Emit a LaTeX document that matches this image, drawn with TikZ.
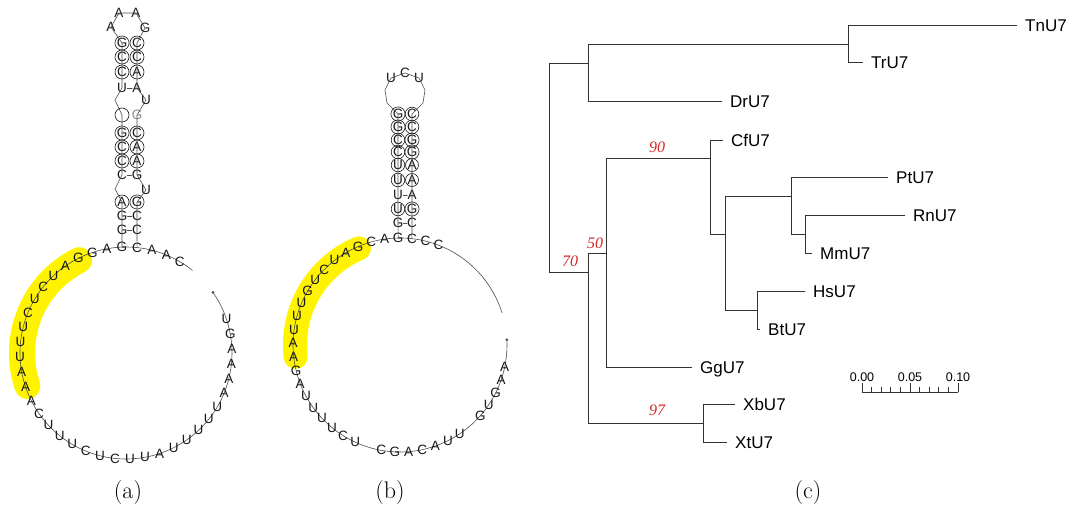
\documentclass[tikz,border=0pt]{standalone}
\usepackage{fontspec}
\setsansfont{Liberation Sans}
\newfontfamily\bsfont{Liberation Serif}
\usetikzlibrary{positioning}

\definecolor{bsred}{RGB}{214,38,38}
\definecolor{hlyellow}{RGB}{255,243,0}

\tikzset{
  nt/.style={font=\sffamily\fontsize{13.5}{13.5}\selectfont,text=black!90,inner sep=0pt},
  ntc/.style={nt,circle,draw=black!90,line width=.6pt,minimum size=14pt},
  bb/.style={draw=black!70,line width=.6pt},
  hl/.style={draw=hlyellow,line width=26pt,line cap=round},
  br/.style={draw=black!80,line width=.9pt,line cap=rect,line join=miter},
  leaf/.style={anchor=west,font=\sffamily\fontsize{17}{17}\selectfont,inner xsep=8pt,inner ysep=0pt,text height=12.2pt,text depth=0pt},
  bs/.style={font=\bsfont\itshape\fontsize{16}{16}\selectfont,text=bsred,inner sep=0pt},
  scl/.style={font=\sffamily\fontsize{12.5}{12.5}\selectfont,inner sep=0pt},
  panel/.style={font=\fontsize{24}{24}\selectfont,inner sep=0pt},
}

\begin{document}
\begin{tikzpicture}[x=1pt,y=1pt,line cap=round,line join=round]
\path[use as bounding box] (0,0) rectangle (1072,-513);

% ---- (a) ----
\coordinate (ca) at (126,-353);
\draw[hl] ([shift={(116.73:104pt)}]ca) arc[start angle=116.73,end angle=198.55,radius=104pt];
\draw[bb] ([shift={(51.27:106pt)}]ca) arc[start angle=51.27,end angle=394.91,radius=106pt];
\fill[black!70] ([shift={(34.91:106pt)}]ca) circle (1.5pt);
\foreach \k/\b in {0/C,1/A,2/A,3/C,8/U,9/G,10/A,11/A,12/A,13/A,14/U,15/U,16/U,17/U,18/U,19/A,20/U,21/U,22/C,23/U,24/C,25/U,26/U,27/U,28/C,29/A,30/A,31/A,32/U,33/U,34/U,35/C,36/U,37/C,38/U,39/A,40/G,41/G,42/A,43/G}
  \node[nt] (a\k) at ([shift={({84-8.18182*\k}:106pt)}]ca) {\b};

\foreach \i/\y/\l/\r in {1/43/G/C,2/57/C/C,3/72/C/A,6/133/G/C,7/147/C/A,8/161/C/A,10/202/A/G}{
  \node[ntc] (aL\i) at (122,-\y) {\l};
  \node[ntc] (aR\i) at (137,-\y) {\r};
}
\foreach \i/\y/\l/\r in {4/88/U/A,9/175/C/G,11/216/G/C,12/230/G/C}{
  \node[nt] (aL\i) at (122,-\y) {\l};
  \node[nt] (aR\i) at (137,-\y) {\r};
  \draw[bb] (aL\i) -- (aR\i);
}
\node[ntc] (aL5) at (122,-115) {};
\node[nt,text=black!45] (aR5) at (137,-115) {G};
\node[nt] (aU1) at (146,-190) {U};
\node[nt] (aU2) at (146,-100) {U};
\coordinate (ab1) at (115,-189);
\coordinate (ab2) at (115,-100);
\node[nt] (ah1) at (111,-27) {A};
\node[nt] (ah2) at (119,-13) {A};
\node[nt] (ah3) at (136,-13) {A};
\node[nt] (ah4) at (145,-28) {G};
\draw[bb] (a43.center) -- (aL12.center) -- (aL11.center) -- (aL10.center) -- (ab1)
  -- (aL9.center) -- (aL8.center) -- (aL7.center) -- (aL6.center) -- (aL5.center) -- (ab2)
  -- (aL4.center) -- (aL3.center) -- (aL2.center) -- (aL1.center)
  -- (ah1.center) -- (ah2.center) -- (ah3.center) -- (ah4.center)
  -- (aR1.center) -- (aR2.center) -- (aR3.center) -- (aR4.center) -- (aU2.center)
  -- (aR5.center) -- (aR6.center) -- (aR7.center) -- (aR8.center) -- (aR9.center) -- (aU1.center)
  -- (aR10.center) -- (aR11.center) -- (aR12.center) -- (a0.center);

% ---- (b) ----
\coordinate (cb) at (400,-345);
\draw[hl,line width=24pt] ([shift={(112.99:105pt)}]cb) arc[start angle=112.99,end angle=186.46,radius=105pt];
\draw[bb] ([shift={(17.48:107pt)}]cb) arc[start angle=17.48,end angle=362.78,radius=107pt];
\fill[black!70] ([shift={(2.78:107pt)}]cb) circle (1.5pt);
\foreach \k/\b in {0/C,1/C,2/C,13/A,14/A,15/G,16/U,17/G,19/U,20/U,21/A,22/C,23/A,24/G,25/C,27/U,28/C,29/U,30/U,31/U,32/U,33/A,34/G,35/A,36/A,37/U,38/U,39/U,40/G,41/U,42/C,43/U,44/A,45/G,46/C,47/A,48/G}
  \node[nt] (b\k) at ([shift={({83.6-7.34694*\k}:107pt)}]cb) {\b};

\foreach \i/\y/\l/\r in {1/114/G/C,2/127/G/C,3/140/C/G,4/152/C/G,5/165/U/A,6/180/U/A,8/209/U/G}{
  \node[ntc,minimum size=13pt] (bL\i) at (398,-\y) {\l};
  \node[ntc,minimum size=13pt] (bR\i) at (412,-\y) {\r};
}
\foreach \i/\y/\l/\r in {7/195/U/A,9/223/G/C}{
  \node[nt] (bL\i) at (398,-\y) {\l};
  \node[nt] (bR\i) at (412,-\y) {\r};
  \draw[bb] (bL\i) -- (bR\i);
}
\node[nt] (bh1) at (391,-78) {U};
\node[nt] (bh2) at (405,-73) {C};
\node[nt] (bh3) at (419,-78) {U};
\draw[bb] (b48.center) -- (bL9.center) -- (bL8.center) -- (bL7.center) -- (bL6.center) -- (bL5.center)
  -- (bL4.center) -- (bL3.center) -- (bL2.center) -- (bL1.center)
  -- (387,-103) -- (385,-90) -- (bh1.center) -- (bh2.center) -- (bh3.center) -- (425,-90) -- (423,-103)
  -- (bR1.center) -- (bR2.center) -- (bR3.center) -- (bR4.center) -- (bR5.center) -- (bR6.center)
  -- (bR7.center) -- (bR8.center) -- (bR9.center) -- (b0.center);

% ---- (c) ----
\coordinate (r) at (549,-167);
\coordinate (nA) at (588,-63);
\coordinate (nT) at (848,-44);
\coordinate (nB) at (588,-272);
\coordinate (nC) at (606,-253);
\coordinate (nD) at (710,-158);
\coordinate (nE) at (725,-234);
\coordinate (nF) at (791,-196);
\coordinate (nG) at (805,-234);
\coordinate (nH) at (757,-310);
\coordinate (nX) at (703,-423);

\node[leaf] (tn) at (1017,-25) {TnU7};
\node[leaf] (tr) at (863,-62) {TrU7};
\node[leaf] (dr) at (722,-101) {DrU7};
\node[leaf] (cf) at (723,-140) {CfU7};
\node[leaf] (pt) at (888,-177) {PtU7};
\node[leaf] (rn) at (905,-215) {RnU7};
\node[leaf] (mm) at (812,-253) {MmU7};
\node[leaf] (hs) at (805,-291) {HsU7};
\node[leaf] (bt) at (760,-329) {BtU7};
\node[leaf] (gg) at (692,-367) {GgU7};
\node[leaf] (xb) at (735,-404) {XbU7};
\node[leaf] (xt) at (727,-442) {XtU7};

\draw[br] (r) |- (nA);  \draw[br] (r) |- (nB);
\draw[br] (nA) |- (nT); \draw[br] (nA) |- (dr);
\draw[br] (nT) |- (tn); \draw[br] (nT) |- (tr);
\draw[br] (nB) |- (nC); \draw[br] (nB) |- (nX);
\draw[br] (nC) |- (nD); \draw[br] (nC) |- (gg);
\draw[br] (nD) |- (cf); \draw[br] (nD) |- (nE);
\draw[br] (nE) |- (nF); \draw[br] (nE) |- (nH);
\draw[br] (nF) |- (pt); \draw[br] (nF) |- (nG);
\draw[br] (nG) |- (rn); \draw[br] (nG) |- (mm);
\draw[br] (nH) |- (hs); \draw[br] (nH) |- (bt);
\draw[br] (nX) |- (xb); \draw[br] (nX) |- (xt);

\node[bs] (b90) at (657,-147) {90};
\node[bs] (b50) at (595,-243) {50};
\node[bs] (b70) at (570,-261) {70};
\node[bs] (b97) at (657,-410) {97};

% scale bar
\coordinate (s0) at (862,-392);
\coordinate (s5) at (910,-392);
\coordinate (s10) at (958,-392);
\draw[br,line width=.8pt] (s0) -- (s10);
\foreach \i in {0,...,10}{
  \pgfmathsetmacro\th{ifthenelse(mod(\i,5)==0,9,5)}
  \draw[br,line width=.8pt] (862+9.6*\i,-392) -- ++(0,\th);
}
\node[scl,above=10pt of s0] (l0) {0.00};
\node[scl,above=10pt of s5] (l5) {0.05};
\node[scl,above=10pt of s10] (l10) {0.10};

% panel labels
\node[panel] (pa) at (128,-493) {(a)};
\node[panel] (pb) at (390,-493) {(b)};
\node[panel] (pc) at (808,-493) {(c)};
\end{tikzpicture}
\end{document}
